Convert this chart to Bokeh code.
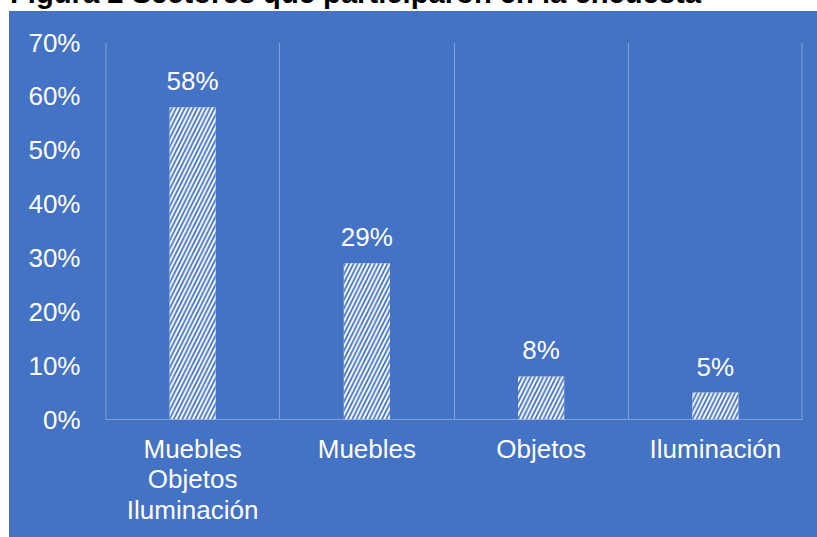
from bokeh.plotting import figure
from bokeh.models import (FactorRange, Range1d, FixedTicker, NumeralTickFormatter,
                          ColumnDataSource, Div, Spacer)
from bokeh.layouts import column, row
from bokeh.core.properties import value
from bokeh.embed import file_html
from bokeh.resources import INLINE

# Survey participation by sector
categories = ["Muebles\nObjetos\nIluminación", "Muebles", "Objetos", "Iluminación"]
shares = [0.58, 0.29, 0.08, 0.05]
y_ticks = [0.0, 0.1, 0.2, 0.3, 0.4, 0.5, 0.6, 0.7]
title_text = "Figura 2 Sectores que participaron en la encuesta"

BLUE = "#4472C4"
FONT = "Liberation Sans"
LIGHT = "rgba(255,255,255,0.32)"

src = ColumnDataSource(dict(
    cat=categories,
    share=shares,
    label=[f"{v:.0%}" for v in shares],
))

p = figure(
    width=808, height=526,
    x_range=FactorRange(factors=categories, range_padding=0),
    y_range=Range1d(0, 0.7),
    output_backend="svg", toolbar_location=None, title=None,
    min_border_left=96, min_border_right=15,
    min_border_top=31, min_border_bottom=118,
    styles={"background-color": BLUE},
)
p.border_fill_color = BLUE
p.background_fill_color = BLUE
p.outline_line_color = None

# vertical separators between categories
n = len(categories)
p.ygrid.grid_line_color = None
p.xgrid.ticker = FixedTicker(ticks=list(range(1, n)))
p.xgrid.grid_line_color = LIGHT
p.xgrid.grid_line_width = 1
# outer separators lie on the frame edge; half of a 2px line stays inside
p.vspan(x=[0, n], line_color=LIGHT, line_width=2)

p.vbar(x="cat", top="share", width=0.265, source=src,
       fill_color="white", line_color=None,
       hatch_pattern="/", hatch_color=BLUE, hatch_scale=8.5, hatch_weight=1.8)

p.text(x="cat", y="share", text="label", source=src,
       text_font=value(FONT), text_font_size="26px", text_color="white",
       text_align="center", text_baseline="alphabetic", y_offset=-26)

# axes
p.yaxis.ticker = FixedTicker(ticks=y_ticks)
p.yaxis.formatter = NumeralTickFormatter(format="0%")
p.yaxis.axis_line_color = None
p.yaxis.major_tick_line_color = None
p.yaxis.minor_tick_line_color = None
p.yaxis.major_tick_out = 0
p.yaxis.major_label_standoff = 25

p.xaxis.axis_line_color = LIGHT
p.xaxis.axis_line_width = 1
p.xaxis.major_tick_line_color = None
p.xaxis.major_tick_out = 0
p.xaxis.major_label_standoff = 14
p.xaxis.major_label_text_line_height = 1.03

for ax in (p.xaxis, p.yaxis):
    ax.major_label_text_font = FONT
    ax.major_label_text_font_size = "26px"
    ax.major_label_text_color = "white"

# caption strip above the chart (only its lower part is in view)
caption = Div(
    text=(f'<div style="position:relative; top:-21px; left:10px; white-space:nowrap; '
          f'font-family:\'{FONT}\'; font-weight:bold; font-size:29.2px; '
          f'line-height:29px; color:black;">{title_text}</div>'),
    width=817, height=11,
    styles={"overflow": "hidden", "margin": "0", "padding": "0"},
)

layout = column(caption, row(Spacer(width=9, height=526), p, spacing=0), spacing=0)

open("out.html", "w").write(file_html(layout, INLINE))
